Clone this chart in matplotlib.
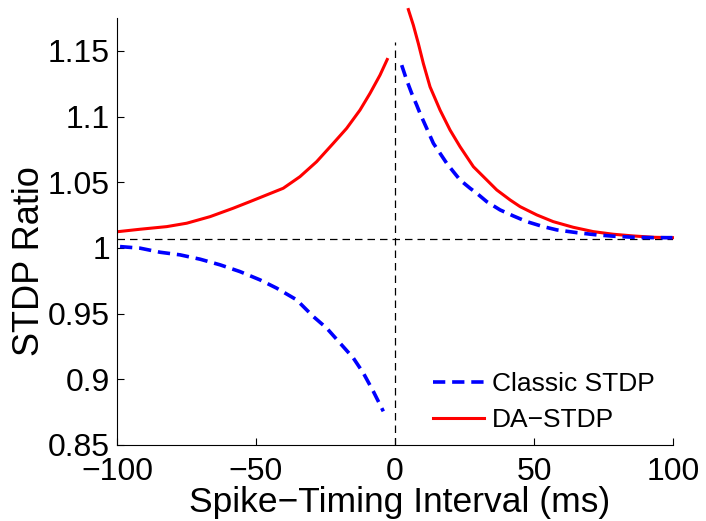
import matplotlib
matplotlib.use("Agg")
import matplotlib.pyplot as plt

plt.rcParams["font.family"] = ["Liberation Sans", "DejaVu Sans"]

# values (ms, ratio)
classic_pre_t = [-98.9, -91.7, -84.5, -77.3, -70.1, -62.9, -55.8, -48.6, -42.6, -35.4,
                 -29.4, -24.6, -19.8, -15.0, -11.4, -7.8, -4.2]
classic_pre_y = [1.0010, 0.9998, 0.9967, 0.9947, 0.9914, 0.9871, 0.9820, 0.9757, 0.9694,
                 0.9605, 0.9478, 0.9390, 0.9276, 0.9162, 0.9048, 0.8908, 0.8756]
classic_post_t = [2.4, 4.2, 6.0, 7.8, 9.0, 11.4, 13.8, 16.2, 18.6, 21.0, 23.4, 27.0, 29.4,
                  33.0, 37.8, 42.6, 47.4, 53.3, 58.2, 65.4, 72.6, 78.6, 85.8, 92.9, 99.8]
classic_post_y = [1.1391, 1.1277, 1.1176, 1.1087, 1.1024, 1.0910, 1.0796, 1.0720, 1.0644,
                  1.0580, 1.0517, 1.0454, 1.0416, 1.0352, 1.0289, 1.0243, 1.0200, 1.0162,
                  1.0137, 1.0116, 1.0099, 1.0089, 1.0081, 1.0078, 1.0078]

da_pre_t = [-99.5, -91.7, -82.1, -74.9, -66.5, -58.2, -52.2, -46.2, -40.2, -34.2, -28.2,
            -22.2, -17.4, -12.6, -9.0, -5.4, -2.8]
da_pre_y = [1.0124, 1.0142, 1.0162, 1.0188, 1.0238, 1.0302, 1.0352, 1.0403, 1.0454, 1.0542,
            1.0656, 1.0796, 1.0910, 1.1049, 1.1176, 1.1315, 1.1434]
da_post_t = [4.8, 6.6, 8.4, 10.2, 12.6, 16.2, 19.8, 23.4, 28.2, 33.0, 36.6, 41.4, 45.0,
             51.0, 56.9, 64.1, 71.3, 78.5, 85.7, 92.9, 99.8]
da_post_y = [1.1814, 1.1695, 1.1555, 1.1403, 1.1226, 1.1049, 1.0897, 1.0770, 1.0618, 1.0517,
             1.0441, 1.0365, 1.0314, 1.0251, 1.0200, 1.0157, 1.0124, 1.0104, 1.0091,
             1.0081, 1.0078]

baseline = 1.0068
zero_line_top = 1.157
xticks = [-100, -50, 0, 50, 100]
yticks = [0.85, 0.9, 0.95, 1.0, 1.05, 1.1, 1.15]
yticklabels = ["0.85", "0.9", "0.95", "1", "1.05", "1.1", "1.15"]

fig = plt.figure(figsize=(7.06, 5.21), dpi=100)
ax = fig.add_axes([0.1657, 0.1459, 0.7876, 0.8196])

# reference lines
ax.axhline(baseline, color="black", lw=0.9, ls=(0, (6, 4)), zorder=1)
ax.plot([0, 0], [0.85, zero_line_top], color="black", lw=0.9, ls=(0, (6, 4)), zorder=1)

dash = (0, (3.4, 1.9))
ax.plot(classic_pre_t, classic_pre_y, color="blue", lw=2.6, ls=dash,
        label="Classic STDP", zorder=3)
ax.plot(classic_post_t, classic_post_y, color="blue", lw=2.6, ls=dash, zorder=3)
ax.plot(da_pre_t, da_pre_y, color="red", lw=2.2, label="DA\u2212STDP", zorder=2)
ax.plot(da_post_t, da_post_y, color="red", lw=2.2, zorder=2, clip_on=False)

ax.set_xlim(-100, 100)
ax.set_ylim(0.85, 1.175)
ax.set_xticks(xticks)
ax.set_yticks(yticks)
ax.set_yticklabels(yticklabels)
ax.tick_params(direction="in", length=5, width=0.8, labelsize=23, pad=5)
ax.tick_params(axis="x", pad=9)
ax.spines["top"].set_visible(False)
ax.spines["right"].set_visible(False)

ax.set_xlabel("Spike\u2212Timing Interval (ms)", fontsize=25.5)
ax.xaxis.set_label_coords(0.509, -0.097)
ax.set_ylabel("STDP Ratio", fontsize=26)
ax.yaxis.set_label_coords(-0.125, 0.43)

ax.legend(loc="lower right", bbox_to_anchor=(0.991, 0.0), frameon=False, fontsize=19,
          handlelength=1.95, handletextpad=0.3, borderaxespad=0.1, labelspacing=0.45)

fig.savefig("out.png", dpi=100)
